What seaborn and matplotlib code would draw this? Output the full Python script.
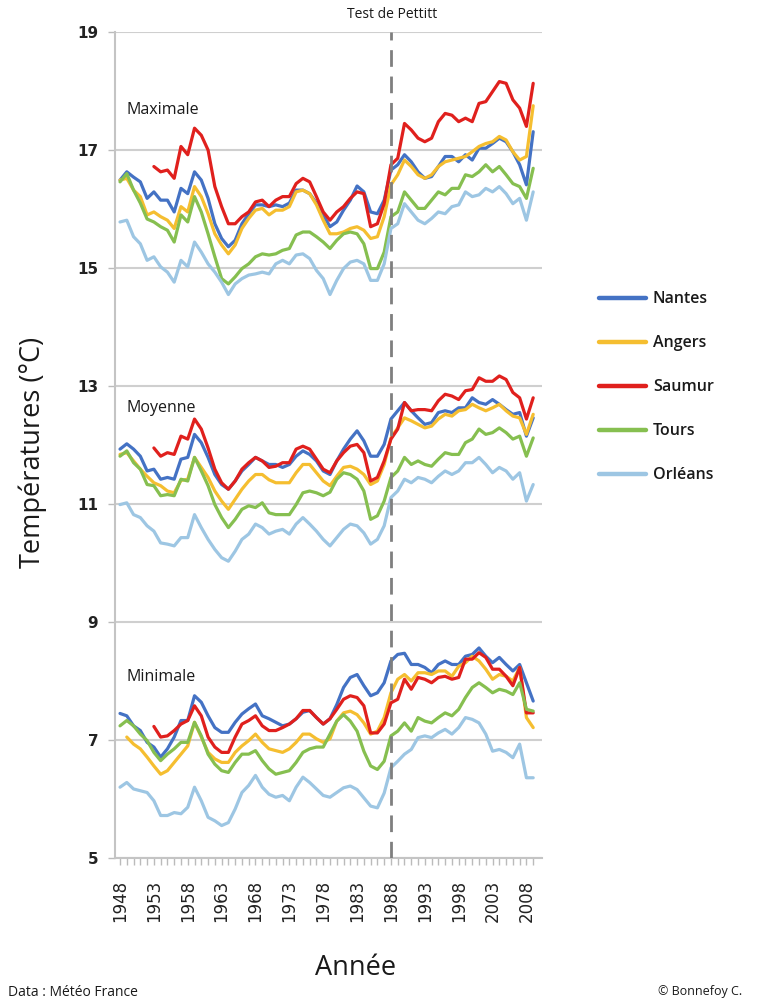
import numpy as np
import pandas as pd
import matplotlib
matplotlib.use("Agg")
import matplotlib.pyplot as plt
import seaborn as sns
from matplotlib.lines import Line2D

years = list(range(1948, 2010))
stations = ["Nantes", "Angers", "Saumur", "Tours", "Orléans"]
colors = ["#4472C4", "#F5BE30", "#E0201D", "#86BF50", "#9DC6E3"]
nan = np.nan

# ---- Maximale ----
nantes_max = [16.49, 16.63, 16.54, 16.46, 16.18, 16.29, 16.15, 16.15, 15.95, 16.35, 16.26, 16.63,
              16.49, 16.18, 15.75, 15.50, 15.36, 15.47, 15.75, 15.92, 16.07, 16.07,
              16.04, 16.07, 16.04, 16.10, 16.32, 16.32, 16.26, 16.10, 15.90, 15.70,
              15.78, 15.98, 16.15, 16.39, 16.29, 15.95, 15.92, 16.15, 16.66, 16.75,
              16.92, 16.80, 16.63, 16.52, 16.55, 16.72, 16.89, 16.89, 16.80, 16.92,
              16.83, 17.03, 17.03, 17.11, 17.20, 17.14, 16.97, 16.75, 16.41, 17.31]
angers_max = [16.49, 16.52, 16.32, 16.21, 15.90, 15.95, 15.87, 15.81, 15.67, 16.04, 15.95, 16.38,
              16.21, 15.92, 15.58, 15.39, 15.24, 15.39, 15.67, 15.84, 15.98, 16.01,
              15.90, 15.98, 15.98, 16.04, 16.29, 16.32, 16.26, 16.07, 15.81, 15.58,
              15.58, 15.61, 15.67, 15.70, 15.64, 15.50, 15.53, 15.87, 16.41, 16.58,
              16.83, 16.72, 16.58, 16.52, 16.58, 16.72, 16.80, 16.83, 16.86, 16.89,
              16.97, 17.06, 17.11, 17.14, 17.23, 17.17, 16.97, 16.83, 16.89, 17.75]
saumur_max = [nan, nan, nan, nan, nan, 16.72, 16.63, 16.66, 16.52, 17.06, 16.92, 17.37,
              17.25, 17.00, 16.38, 16.04, 15.75, 15.75, 15.87, 15.95, 16.12, 16.15,
              16.04, 16.15, 16.21, 16.21, 16.43, 16.52, 16.46, 16.21, 15.95, 15.81,
              15.95, 16.04, 16.18, 16.29, 16.26, 15.70, 15.75, 16.09, 16.75, 16.86,
              17.45, 17.34, 17.20, 17.14, 17.20, 17.48, 17.62, 17.59, 17.48, 17.54,
              17.48, 17.79, 17.82, 17.99, 18.16, 18.13, 17.85, 17.71, 17.40, 18.13]
tours_max = [16.46, 16.60, 16.32, 16.10, 15.83, 15.78, 15.70, 15.64, 15.44, 15.90, 15.78, 16.21,
             15.95, 15.58, 15.19, 14.82, 14.73, 14.85, 14.99, 15.07, 15.19, 15.24,
             15.22, 15.24, 15.30, 15.33, 15.56, 15.61, 15.61, 15.53, 15.44, 15.33,
             15.47, 15.58, 15.61, 15.58, 15.41, 14.99, 14.99, 15.27, 15.87, 15.95,
             16.29, 16.15, 16.01, 16.01, 16.15, 16.29, 16.24, 16.35, 16.35, 16.58,
             16.55, 16.63, 16.75, 16.63, 16.72, 16.58, 16.43, 16.38, 16.18, 16.69]
orleans_max = [15.78, 15.81, 15.53, 15.41, 15.13, 15.19, 15.02, 14.93, 14.76, 15.13, 15.02, 15.44,
               15.27, 15.07, 14.93, 14.76, 14.55, 14.73, 14.82, 14.88, 14.90, 14.93,
               14.90, 15.07, 15.13, 15.07, 15.22, 15.24, 15.16, 14.96, 14.82, 14.55,
               14.79, 14.99, 15.10, 15.13, 15.07, 14.79, 14.79, 15.07, 15.67, 15.75,
               16.09, 15.95, 15.81, 15.75, 15.84, 15.95, 15.92, 16.04, 16.07, 16.29,
               16.21, 16.24, 16.35, 16.29, 16.38, 16.26, 16.09, 16.18, 15.81, 16.29]

# ---- Moyenne ----
nantes_moy = [11.93, 12.02, 11.93, 11.81, 11.56, 11.59, 11.42, 11.45, 11.42, 11.76, 11.79, 12.18,
              12.04, 11.79, 11.50, 11.33, 11.25, 11.39, 11.56, 11.67, 11.79, 11.73,
              11.67, 11.67, 11.62, 11.67, 11.81, 11.90, 11.84, 11.73, 11.56, 11.50,
              11.73, 11.93, 12.10, 12.24, 12.07, 11.81, 11.81, 12.01, 12.44, 12.58,
              12.72, 12.58, 12.46, 12.35, 12.38, 12.55, 12.58, 12.55, 12.63, 12.63,
              12.80, 12.72, 12.69, 12.77, 12.69, 12.60, 12.52, 12.55, 12.15, 12.46]
angers_moy = [11.84, 11.87, 11.73, 11.59, 11.47, 11.36, 11.31, 11.22, 11.19, 11.40, 11.42, 11.79,
              11.62, 11.45, 11.22, 11.05, 10.91, 11.08, 11.25, 11.39, 11.50, 11.50,
              11.41, 11.36, 11.36, 11.36, 11.53, 11.67, 11.67, 11.53, 11.39, 11.31,
              11.47, 11.62, 11.64, 11.59, 11.50, 11.33, 11.39, 11.67, 12.12, 12.29,
              12.46, 12.41, 12.35, 12.29, 12.32, 12.44, 12.52, 12.49, 12.58, 12.60,
              12.69, 12.63, 12.58, 12.63, 12.69, 12.58, 12.49, 12.46, 12.18, 12.52]
saumur_moy = [nan, nan, nan, nan, nan, 11.95, 11.81, 11.87, 11.84, 12.15, 12.10, 12.44,
              12.27, 11.95, 11.59, 11.36, 11.25, 11.39, 11.59, 11.70, 11.79, 11.73,
              11.62, 11.64, 11.70, 11.70, 11.93, 11.98, 11.93, 11.76, 11.59, 11.53,
              11.73, 11.87, 11.98, 12.01, 11.87, 11.39, 11.45, 11.73, 12.10, 12.27,
              12.72, 12.58, 12.60, 12.60, 12.58, 12.75, 12.86, 12.83, 12.77, 12.92,
              12.94, 13.14, 13.08, 13.08, 13.17, 13.11, 12.89, 12.80, 12.44, 12.80]
tours_moy = [11.81, 11.90, 11.70, 11.59, 11.33, 11.31, 11.14, 11.16, 11.14, 11.42, 11.39, 11.79,
             11.56, 11.31, 10.99, 10.77, 10.60, 10.74, 10.91, 10.97, 10.94, 11.02,
             10.85, 10.82, 10.82, 10.82, 10.99, 11.19, 11.22, 11.19, 11.14, 11.20,
             11.42, 11.53, 11.50, 11.42, 11.22, 10.74, 10.80, 11.05, 11.45, 11.56,
             11.79, 11.67, 11.73, 11.67, 11.64, 11.76, 11.87, 11.84, 11.84, 12.04,
             12.10, 12.27, 12.18, 12.21, 12.29, 12.21, 12.10, 12.15, 11.81, 12.12]
orleans_moy = [10.99, 11.02, 10.82, 10.77, 10.63, 10.54, 10.34, 10.32, 10.29, 10.43, 10.43, 10.82,
               10.60, 10.40, 10.23, 10.09, 10.03, 10.20, 10.40, 10.49, 10.66, 10.60,
               10.49, 10.54, 10.57, 10.49, 10.66, 10.77, 10.66, 10.54, 10.40, 10.29,
               10.43, 10.57, 10.66, 10.63, 10.51, 10.32, 10.40, 10.63, 11.11, 11.22,
               11.42, 11.36, 11.45, 11.42, 11.36, 11.47, 11.56, 11.50, 11.56, 11.70,
               11.70, 11.79, 11.67, 11.53, 11.62, 11.56, 11.42, 11.53, 11.05, 11.33]

# ---- Minimale ----
nantes_min = [7.45, 7.41, 7.24, 7.16, 6.96, 6.88, 6.71, 6.85, 7.05, 7.33, 7.33, 7.75,
              7.64, 7.41, 7.21, 7.13, 7.13, 7.30, 7.44, 7.53, 7.61, 7.41,
              7.36, 7.30, 7.24, 7.27, 7.36, 7.47, 7.50, 7.38, 7.27, 7.36,
              7.60, 7.89, 8.06, 8.11, 7.92, 7.75, 7.80, 7.97, 8.34, 8.45,
              8.47, 8.28, 8.28, 8.23, 8.14, 8.28, 8.34, 8.28, 8.28, 8.42,
              8.45, 8.56, 8.42, 8.31, 8.40, 8.28, 8.17, 8.28, 7.97, 7.66]
angers_min = [nan, 7.05, 6.93, 6.85, 6.71, 6.56, 6.42, 6.48, 6.62, 6.76, 6.90, 7.30,
              7.05, 6.79, 6.68, 6.62, 6.62, 6.79, 6.90, 6.99, 7.10, 6.96,
              6.85, 6.82, 6.79, 6.85, 6.96, 7.10, 7.10, 7.02, 6.96, 7.02,
              7.32, 7.46, 7.49, 7.43, 7.29, 7.10, 7.15, 7.38, 7.80, 8.03,
              8.11, 8.00, 8.14, 8.14, 8.11, 8.17, 8.17, 8.08, 8.25, 8.31,
              8.42, 8.34, 8.20, 8.03, 8.11, 8.08, 8.00, 8.23, 7.38, 7.21]
saumur_min = [nan, nan, nan, nan, nan, 7.23, 7.05, 7.07, 7.16, 7.27, 7.33, 7.58,
              7.41, 7.05, 6.88, 6.79, 6.79, 7.05, 7.27, 7.33, 7.41, 7.24,
              7.16, 7.16, 7.21, 7.27, 7.36, 7.50, 7.50, 7.38, 7.27, 7.36,
              7.52, 7.69, 7.75, 7.72, 7.58, 7.12, 7.12, 7.27, 7.63, 7.69,
              8.03, 7.86, 8.06, 8.03, 7.97, 8.06, 8.08, 8.03, 8.06, 8.37,
              8.37, 8.48, 8.40, 8.20, 8.20, 8.08, 7.92, 8.23, 7.46, 7.46]
tours_min = [7.24, 7.33, 7.24, 7.10, 6.99, 6.79, 6.65, 6.76, 6.85, 6.96, 6.96, 7.30,
             7.07, 6.76, 6.59, 6.48, 6.45, 6.62, 6.76, 6.76, 6.82, 6.65,
             6.51, 6.42, 6.45, 6.48, 6.62, 6.79, 6.85, 6.88, 6.88, 7.10,
             7.32, 7.43, 7.32, 7.15, 6.81, 6.56, 6.50, 6.64, 7.07, 7.15,
             7.29, 7.15, 7.38, 7.32, 7.29, 7.38, 7.46, 7.41, 7.52, 7.72,
             7.89, 7.97, 7.89, 7.80, 7.86, 7.83, 7.77, 7.97, 7.52, 7.49]
orleans_min = [6.20, 6.28, 6.17, 6.14, 6.11, 5.97, 5.72, 5.72, 5.77, 5.75, 5.86, 6.20,
               5.97, 5.69, 5.63, 5.55, 5.60, 5.83, 6.11, 6.23, 6.40, 6.20,
               6.08, 6.03, 6.06, 5.97, 6.20, 6.37, 6.28, 6.17, 6.06, 6.03,
               6.11, 6.19, 6.22, 6.16, 6.02, 5.88, 5.85, 6.10, 6.53, 6.64,
               6.76, 6.84, 7.04, 7.07, 7.04, 7.12, 7.18, 7.10, 7.21, 7.38,
               7.35, 7.29, 7.10, 6.81, 6.84, 6.79, 6.70, 6.93, 6.36, 6.36]

variables = ["Maximale", "Moyenne", "Minimale"]
series = {
    "Maximale": [nantes_max, angers_max, saumur_max, tours_max, orleans_max],
    "Moyenne": [nantes_moy, angers_moy, saumur_moy, tours_moy, orleans_moy],
    "Minimale": [nantes_min, angers_min, saumur_min, tours_min, orleans_min],
}

rows = []
for var in variables:
    for st, vals in zip(stations, series[var]):
        for y, v in zip(years, vals):
            rows.append({"year": y, "value": v, "station": st, "variable": var})
df = pd.DataFrame(rows).dropna()

sns.set_theme(style="white")
plt.rcParams["font.family"] = ["Open Sans", "DejaVu Sans"]

W, H = 768, 1001
fig = plt.figure(figsize=(W / 100, H / 100), dpi=100)
fig.patch.set_facecolor("white")

def fx(x):
    return x / W

def fy(y):
    return 1 - y / H

ax = fig.add_axes([fx(115), fy(858), fx(542) - fx(115), fy(32) - fy(858)])
ax.set_facecolor("white")

sns.lineplot(data=df, x="year", y="value", hue="station", units="variable",
             estimator=None, hue_order=stations, palette=colors,
             linewidth=2.3, legend=False, ax=ax, sort=True)

ax.set_xlim(1947.26, 2010.3)
ax.set_ylim(5, 19)
yt = list(range(5, 20, 2))
ax.set_yticks(yt)
ax.set_yticklabels([str(v) for v in yt], fontfamily="DejaVu Sans",
                   fontweight="bold", fontsize=11, color="#222222")
ax.yaxis.grid(True, color="#CFCFCF", linewidth=1.5)
ax.xaxis.grid(False)
ax.set_axisbelow(True)

xt = list(range(1948, 2010, 5))
ax.set_xticks(xt)
ax.set_xticklabels([str(v) for v in xt], rotation=90, fontfamily="DejaVu Sans",
                   fontsize=12, color="#222222")
ax.set_xticks(years, minor=True)
ax.tick_params(axis="x", which="both", length=5, width=1, color="#BBBBBB",
               direction="out", pad=11, bottom=True)
ax.tick_params(axis="y", which="major", length=5, width=1, color="#BBBBBB",
               direction="out", pad=7, left=True)

for s in ["top", "right"]:
    ax.spines[s].set_visible(False)
for s in ["left", "bottom"]:
    ax.spines[s].set_color("#C4C4C4")
    ax.spines[s].set_linewidth(1.5)

ax.axvline(1988, color="#7F7F7F", linewidth=2.0, dashes=(6, 3.5), zorder=5)

ax.set_xlabel("")
ax.set_ylabel("")

# Section labels
for txt, ypix in [("Maximale", 110), ("Moyenne", 408), ("Minimale", 677)]:
    fig.text(fx(127), fy(ypix), txt, fontsize=11.5, color="#1a1a1a",
             ha="left", va="center")

fig.text(fx(392), fy(15), "Test de Pettitt", fontsize=10, color="#1a1a1a",
         ha="center", va="center")

fig.text(fx(33), fy(452), "Températures (°C)", fontsize=19.5, rotation=90,
         color="#1a1a1a", ha="center", va="center")
fig.text(fx(356), fy(968), "Année", fontsize=19.5, color="#1a1a1a",
         ha="center", va="center")
fig.text(fx(8), fy(992), "Data : Météo France", fontsize=10, color="#1a1a1a",
         ha="left", va="center")
fig.text(fx(742), fy(992), "© Bonnefoy C.", fontsize=9, color="#1a1a1a",
         ha="right", va="center")

handles = [Line2D([0], [0], color=c, linewidth=3.2) for c in colors]
leg = fig.legend(handles, stations, loc="upper left",
                 bbox_to_anchor=(fx(585), fy(277)), frameon=False,
                 handlelength=2.9, handletextpad=0.45, labelspacing=1.75,
                 prop={"family": "Open Sans", "weight": "semibold", "size": 11.5})
for t in leg.get_texts():
    t.set_color("#1a1a1a")

fig.savefig("out.png", dpi=100, facecolor="white")
